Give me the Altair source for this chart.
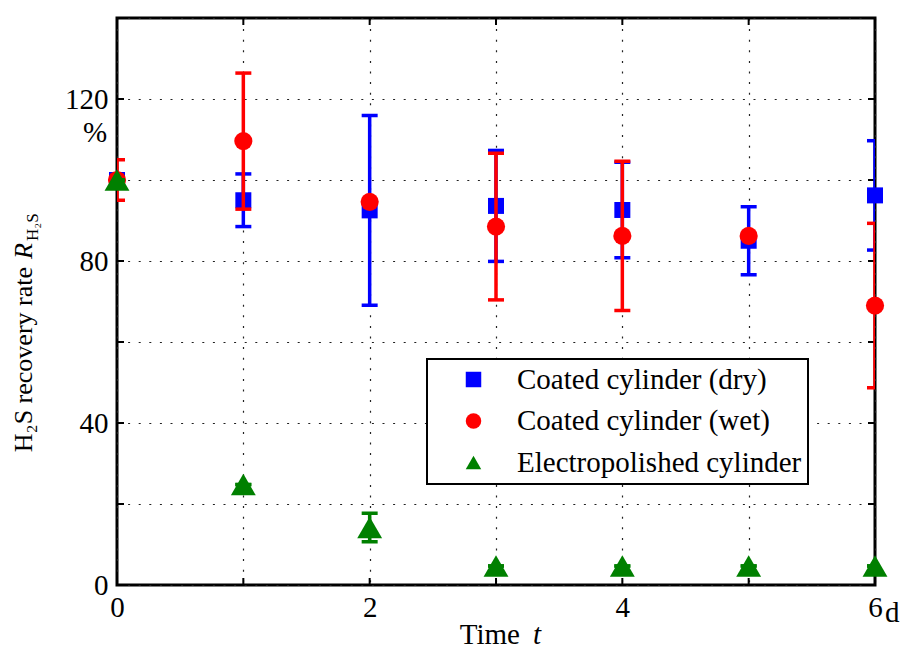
import altair as alt
import pandas as pd

# ---------------- data ----------------
days = [0, 1, 2, 3, 4, 5, 6]

series_names = ["Coated cylinder (dry)", "Coated cylinder (wet)", "Electropolished cylinder"]
series_colors = ["#0000ff", "#ff0000", "#008000"]
series_shapes = ["square", "circle", "triangle-up"]
marker_sizes = [256, 330, 620]

dry_mean = [100.0, 95.0, 92.5, 93.6, 92.6, 85.0, 96.2]
dry_err = [1.0, 6.5, 23.4, 13.7, 11.8, 8.4, 13.5]

wet_mean = [100.0, 109.6, 94.6, 88.5, 86.2, 86.2, 69.0]
wet_err = [5.0, 16.8, 0.0, 18.1, 18.4, 0.0, 20.3]

ep_mean = [100.0, 24.8, 14.2, 4.7, 4.7, 4.7, 4.7]
ep_err = [0.0, 0.0, 3.5, 0.0, 0.0, 0.0, 0.0]

x_ticks = [0, 1, 2, 3, 4, 5, 6]
y_ticks = [0, 20, 40, 60, 80, 100, 120, 140]
x_labels = [0, 2, 4, 6]
y_labels = [0, 40, 80, 120]

x_title_main = "Time"
x_title_sym = "t"
x_unit = "d"
y_title_main = "H₂S recovery rate"
y_title_sym = "R"
y_title_sub = "H₂S"
y_unit = "%"

# ---------------- layout ----------------
W, H = 758, 567
FONT = "Liberation Serif"
FS = 29
TICK = 7

xscale = alt.Scale(domain=[0, 6], nice=False, zero=False)
yscale = alt.Scale(domain=[0, 140], nice=False, zero=False)

xaxis = alt.Axis(
    values=x_ticks, title=None, domain=False, ticks=False, grid=True,
    labelExpr=f"indexof({x_labels}, datum.value) >= 0 ? datum.label : ''",
    labelFont=FONT, labelFontSize=FS, labelColor="black", labelPadding=8,
    gridDash=[2, 8.6], gridColor="#222222", gridWidth=1.2, labelFlush=False,
)
yaxis = alt.Axis(
    values=y_ticks, title=None, domain=False, ticks=False, grid=True,
    labelExpr=f"indexof({y_labels}, datum.value) >= 0 ? datum.label : ''",
    labelFont=FONT, labelFontSize=FS, labelColor="black", labelPadding=9,
    gridDash=[2, 8.6], gridColor="#222222", gridWidth=1.2, labelFlush=False,
)


def X(field):
    return alt.X(field, type="quantitative", scale=xscale, axis=xaxis)


def Y(field):
    return alt.Y(field, type="quantitative", scale=yscale, axis=yaxis)


legend = alt.Legend(orient="none", legendX=310, legendY=341, title=None)
color_enc = alt.Color("series:N", scale=alt.Scale(domain=series_names, range=series_colors), legend=legend)
shape_enc = alt.Shape("series:N", scale=alt.Scale(domain=series_names, range=series_shapes), legend=legend)

layers = []

# inward ticks on all four sides
xt = pd.DataFrame({"t": x_ticks})
yt = pd.DataFrame({"t": y_ticks})
layers.append(alt.Chart(xt).mark_rule(color="black", strokeWidth=2).encode(
    x=X("t"), y=alt.value(H), y2=alt.value(H - TICK)))
layers.append(alt.Chart(xt).mark_rule(color="black", strokeWidth=2).encode(
    x=X("t"), y=alt.value(0), y2=alt.value(TICK)))
layers.append(alt.Chart(yt).mark_rule(color="black", strokeWidth=2).encode(
    y=Y("t"), x=alt.value(0), x2=alt.value(TICK)))
layers.append(alt.Chart(yt).mark_rule(color="black", strokeWidth=2).encode(
    y=Y("t"), x=alt.value(W), x2=alt.value(W - TICK)))

for name, col, size, mean, err in zip(
        series_names, series_colors, marker_sizes,
        [dry_mean, wet_mean, ep_mean], [dry_err, wet_err, ep_err]):
    df = pd.DataFrame({
        "day": days,
        "mean": mean,
        "lo": [m - e for m, e in zip(mean, err)],
        "hi": [m + e for m, e in zip(mean, err)],
        "series": name,
    })
    layers.append(alt.Chart(df).mark_rule(color=col, strokeWidth=3.5, clip=True).encode(
        x=X("day"), y=Y("lo"), y2="hi"))
    layers.append(alt.Chart(df).transform_fold(["lo", "hi"], as_=["end", "v"]).mark_tick(
        color=col, orient="horizontal", thickness=3.5, size=16, clip=True, opacity=1).encode(
        x=X("day"), y=Y("v")))
    layers.append(alt.Chart(df).mark_point(filled=True, opacity=1, size=size).encode(
        x=X("day"), y=Y("mean"), color=color_enc, shape=shape_enc))


def txt(s, x, y, **kw):
    return alt.Chart(pd.DataFrame({"s": [s]})).mark_text(font=FONT, color="black", **kw).encode(
        text="s:N", x=alt.value(x), y=alt.value(y))


layers.append(txt(x_title_main, 403, 626, fontSize=FS, align="right", baseline="alphabetic"))
layers.append(txt(x_title_sym, 416, 626, fontSize=FS, align="left", baseline="alphabetic", fontStyle="italic"))
layers.append(txt(x_unit, 768, 604, fontSize=FS, align="left", baseline="alphabetic"))
layers.append(txt(y_unit, -22, 124, fontSize=FS, align="center", baseline="alphabetic"))
layers.append(txt(y_title_main, -85, 249, fontSize=26, align="right", baseline="alphabetic", angle=270))
layers.append(txt(y_title_sym, -85, 241, fontSize=26, align="left", baseline="alphabetic", angle=270, fontStyle="italic"))
layers.append(txt(y_title_sub, -79, 223, fontSize=17, align="left", baseline="alphabetic", angle=270))

chart = alt.layer(*layers).properties(
    width=W, height=H,
    padding={"left": 109, "top": 10, "right": 26, "bottom": 65},
    autosize=alt.AutoSizeParams(type="none"),
).configure(font=FONT).configure_view(
    stroke="black", strokeWidth=3
).configure_legend(
    strokeColor="black", strokeWidth=2, fillColor="white", padding=6,
    labelFont=FONT, labelFontSize=FS, labelColor="black", labelOffset=29,
    symbolOffset=26, symbolSize=240, rowPadding=11.5, symbolStrokeWidth=0,
    labelLimit=400,
)

chart.save("out.html", embed_options={"renderer": "svg", "actions": False})
